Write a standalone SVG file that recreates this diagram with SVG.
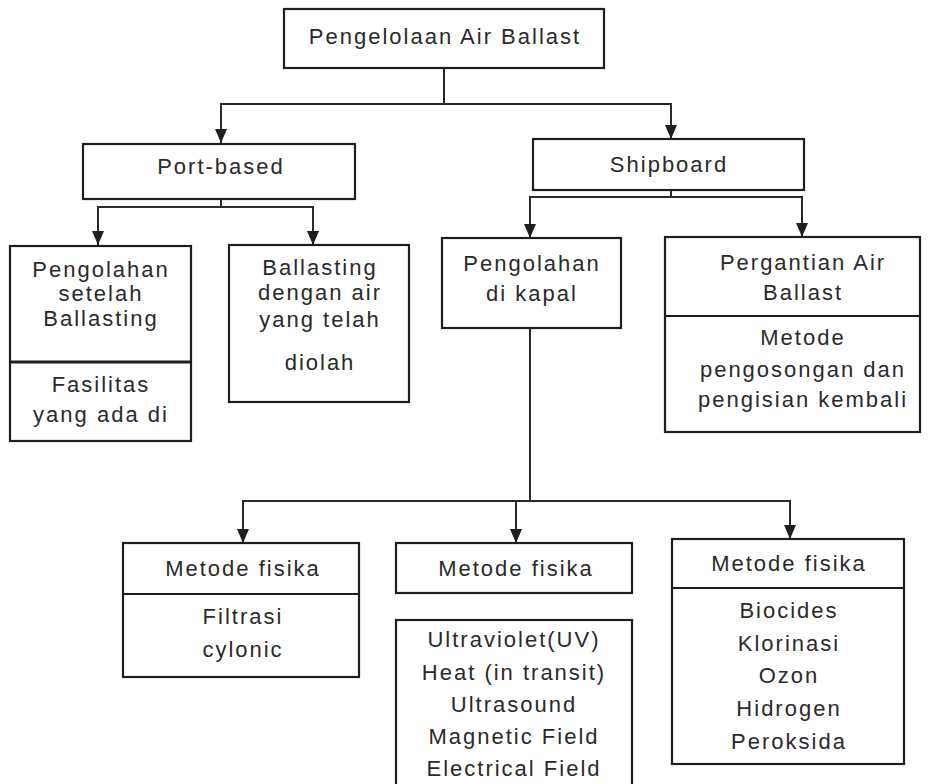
<svg xmlns="http://www.w3.org/2000/svg" width="929" height="784" viewBox="0 0 929 784">
<defs>
<style>
.box{fill:#fff;stroke:#1e1e1e;stroke-width:2.2}
.div{stroke:#1e1e1e;stroke-width:2.2;fill:none}
.t{font-family:"Liberation Sans",Arial,sans-serif;font-size:22px;fill:#2a2a2a;text-anchor:middle;letter-spacing:2px}
.c{fill:none;stroke:#2a2a2a;stroke-width:2}
</style>
<marker id="arr" markerUnits="userSpaceOnUse" markerWidth="14" markerHeight="12" refX="14" refY="6" orient="auto">
<path d="M0,0 L14,6 L0,12 z" fill="#1e1e1e"/>
</marker>
</defs>
<rect width="929" height="784" fill="#fff"/>
<g id="connectors">
<path class="c" d="M444,68 V104 H221 V143" marker-end="url(#arr)"/>
<path class="c" d="M444,68 V104 H671 V139" marker-end="url(#arr)"/>
<path class="c" d="M221,199 V207 H98 V245" marker-end="url(#arr)"/>
<path class="c" d="M221,199 V207 H313 V245" marker-end="url(#arr)"/>
<path class="c" d="M671,190 V197 H530 V238" marker-end="url(#arr)"/>
<path class="c" d="M671,190 V197 H802 V237" marker-end="url(#arr)"/>
<path class="c" d="M530,328 V501 H243 V543" marker-end="url(#arr)"/>
<path class="c" d="M530,328 V501 H516 V543" marker-end="url(#arr)"/>
<path class="c" d="M530,328 V501 H790 V539" marker-end="url(#arr)"/>
</g>
<g id="root">
<rect class="box" x="284" y="9" width="320" height="59"/>
<text class="t" x="445" y="44">Pengelolaan Air Ballast</text>
</g>
<g id="port-based">
<rect class="box" x="83" y="144" width="272" height="55"/>
<text class="t" x="221" y="174">Port-based</text>
</g>
<g id="shipboard">
<rect class="box" x="533" y="139" width="271" height="51"/>
<text class="t" x="669" y="172">Shipboard</text>
</g>
<g id="pengolahan-setelah">
<rect class="box" x="10" y="246" width="181" height="195"/>
<line class="div" x1="10" y1="362" x2="191" y2="362" style="stroke-width:3"/>
<text class="t" x="101" y="277">Pengolahan</text>
<text class="t" x="101" y="301">setelah</text>
<text class="t" x="101" y="326">Ballasting</text>
<text class="t" x="101" y="392">Fasilitas</text>
<text class="t" x="101" y="422">yang ada di</text>
</g>
<g id="ballasting-diolah">
<rect class="box" x="229" y="245" width="180" height="157"/>
<text class="t" x="320" y="275">Ballasting</text>
<text class="t" x="320" y="300">dengan air</text>
<text class="t" x="320" y="327">yang telah</text>
<text class="t" x="320" y="370">diolah</text>
</g>
<g id="pengolahan-kapal">
<rect class="box" x="442" y="238" width="179" height="90"/>
<text class="t" x="532" y="271">Pengolahan</text>
<text class="t" x="532" y="301">di kapal</text>
</g>
<g id="pergantian">
<rect class="box" x="665" y="237" width="255" height="195"/>
<line class="div" x1="665" y1="316" x2="920" y2="316"/>
<text class="t" x="803" y="270">Pergantian Air</text>
<text class="t" x="803" y="300">Ballast</text>
<text class="t" x="803" y="345">Metode</text>
<text class="t" x="803" y="377">pengosongan dan</text>
<text class="t" x="803" y="407">pengisian kembali</text>
</g>
<g id="fisika-1">
<rect class="box" x="123" y="543" width="236" height="134"/>
<line class="div" x1="123" y1="594" x2="359" y2="594"/>
<text class="t" x="243" y="576">Metode fisika</text>
<text class="t" x="243" y="624">Filtrasi</text>
<text class="t" x="243" y="657">cylonic</text>
</g>
<g id="fisika-2">
<rect class="box" x="396" y="543" width="236" height="50"/>
<text class="t" x="516" y="576">Metode fisika</text>
</g>
<g id="fisika-2-list">
<rect class="box" x="396" y="620" width="236" height="200"/>
<text class="t" x="514" y="647">Ultraviolet(UV)</text>
<text class="t" x="514" y="680">Heat (in transit)</text>
<text class="t" x="514" y="712">Ultrasound</text>
<text class="t" x="514" y="744">Magnetic Field</text>
<text class="t" x="514" y="776">Electrical Field</text>
</g>
<g id="fisika-3">
<rect class="box" x="672" y="539" width="232" height="225"/>
<line class="div" x1="672" y1="588" x2="904" y2="588"/>
<text class="t" x="789" y="571">Metode fisika</text>
<text class="t" x="789" y="618">Biocides</text>
<text class="t" x="789" y="651">Klorinasi</text>
<text class="t" x="789" y="683">Ozon</text>
<text class="t" x="789" y="716">Hidrogen</text>
<text class="t" x="789" y="749">Peroksida</text>
</g>
</svg>
